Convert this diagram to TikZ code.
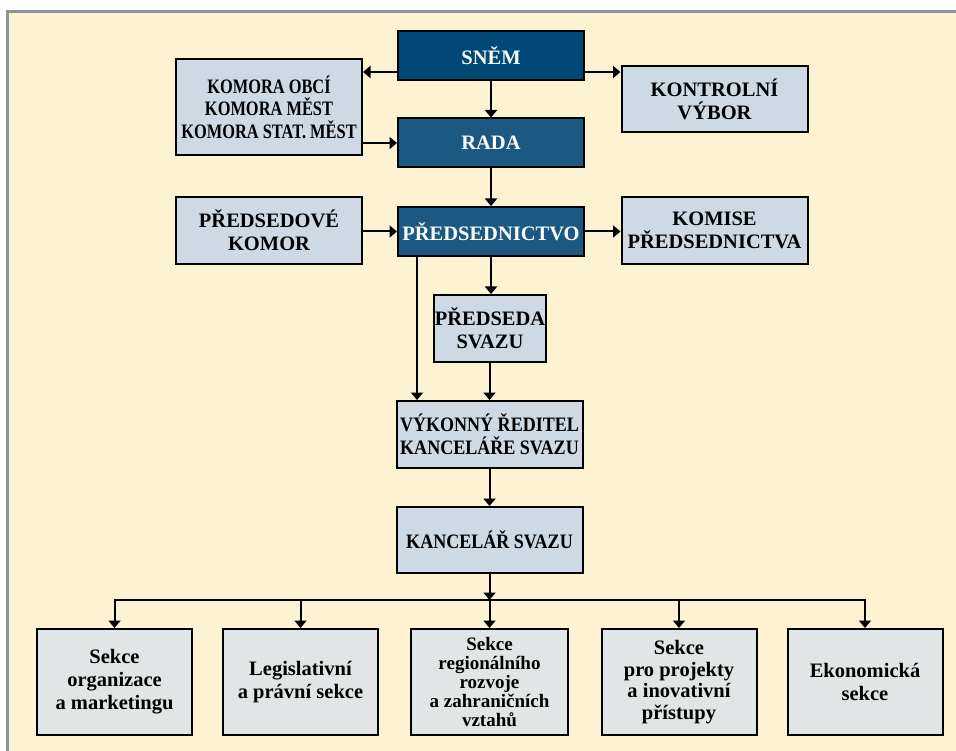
\documentclass[tikz,border=0pt]{standalone}
\usepackage{fontspec}
\setmainfont{Liberation Serif}
\newfontfamily\condA[FakeStretch=0.8]{Liberation Serif}
\newfontfamily\condB[FakeStretch=0.88]{Liberation Serif}
\usetikzlibrary{arrows.meta,calc}
\definecolor{cream}{RGB}{253,243,210}
\definecolor{framegray}{RGB}{140,149,154}
\definecolor{snemblue}{RGB}{0,72,117}
\definecolor{radablue}{RGB}{27,88,130}
\definecolor{lightbox}{RGB}{205,218,227}
\definecolor{graybox}{RGB}{226,229,230}
\begin{document}
\begin{tikzpicture}[x=1pt,y=-1pt,
  box/.style={draw=black,line width=2pt,align=center,inner sep=0pt,
    font=\bfseries\fontsize{20.5}{23}\selectfont},
  wide/.style={minimum width=186pt},
  darkA/.style={box,wide,fill=snemblue,text=white,minimum height=49pt},
  darkB/.style={box,wide,fill=radablue,text=white,minimum height=49pt},
  lbox/.style={box,fill=lightbox},
  sbox/.style={box,fill=graybox,minimum width=155pt,minimum height=106pt},
  ln/.style={line width=2pt},
  arr/.style={line width=2pt,-{Triangle[length=7.5pt,width=12pt]}},
]
\useasboundingbox (0,0) rectangle (956,751);
\fill[white] (0,0) rectangle (956,751);
\begin{scope}
\clip (0,0) rectangle (956,751);
\draw[framegray,line width=2.5pt,fill=cream] (7.5,11.5) rectangle (975,775);
\end{scope}

% top levels
\node[darkA] (snem) at (491,55.5) {SNĚM};
\node[darkB] (rada) at (491,143) {RADA};
\node[darkB] (predsednictvo) at (491,231.5) {PŘEDSEDNICTVO};
\node[lbox,wide,minimum height=96pt,font=\condA\bfseries\fontsize{20.5}{22.5}\selectfont] (komora) at (269,107)
  {KOMORA OBCÍ\\KOMORA MĚST\\KOMORA STAT. MĚST};
\node[lbox,wide,minimum height=66pt] (kontrol) at (714.5,99) {KONTROLNÍ\\VÝBOR};
\node[lbox,wide,minimum height=67pt] (predkom) at (269,230.5) {PŘEDSEDOVÉ\\KOMOR};
\node[lbox,wide,minimum height=67pt] (komise) at (714.5,230.5) {KOMISE\\PŘEDSEDNICTVA};
\node[lbox,minimum width=112pt,minimum height=67pt] (predseda) at (490,328.5) {PŘEDSEDA\\SVAZU};
\node[lbox,wide,minimum height=67pt,font=\condB\bfseries\fontsize{20.5}{23}\selectfont] (vykonny) at (489.5,434.5)
  {VÝKONNÝ ŘEDITEL\\KANCELÁŘE SVAZU};
\node[lbox,wide,minimum height=66pt,font=\condB\bfseries\fontsize{20.5}{23}\selectfont] (kancelar) at (489.5,540)
  {KANCELÁŘ SVAZU};

% sections
\node[sbox] (s1) at (114.5,682) {Sekce\\organizace\\a marketingu};
\node[sbox] (s2) at (300.5,682) {Legislativní\\a právní sekce};
\node[sbox,minimum width=157pt,font=\bfseries\fontsize{19}{18.8}\selectfont] (s3) at (489.5,682)
  {Sekce\\regionálního\\rozvoje\\a zahraničních\\vztahů};
\node[sbox,font=\bfseries\fontsize{20.5}{21.5}\selectfont] (s4) at (679,682) {Sekce\\pro projekty\\a inovativní\\přístupy};
\node[sbox] (s5) at (865,682) {Ekonomická\\sekce};

% connectors
\draw[arr] ([yshift=-16.5pt]snem.west) -- ([yshift=-16.5pt]snem.west -| komora.east);
\draw[arr] ([yshift=-16.5pt]snem.east) -- ([yshift=-16.5pt]snem.east -| kontrol.west);
\draw[arr] (snem.south) -- (rada.north);
\draw[arr] (komora.east |- rada.west) -- (rada.west);
\draw[arr] (rada.south) -- (predsednictvo.north);
\draw[arr] (predkom.east |- predsednictvo.west) -- (predsednictvo.west);
\draw[arr] (predsednictvo.east) -- (predsednictvo.east -| komise.west);
\draw[arr] (predsednictvo.south) -- (predsednictvo.south |- predseda.north);
\draw[arr] ([xshift=-74pt]predsednictvo.south) -- ([xshift=-74pt]predsednictvo.south |- vykonny.north);
\draw[arr] (predseda.south -| vykonny.north) -- (vykonny.north);
\draw[arr] (vykonny.south) -- (kancelar.north);
\coordinate (bus) at (489.5,600);
\draw[arr] (kancelar.south) -- (kancelar.south |- bus);
\draw[ln,line cap=rect] (s1.north |- bus) -- (s5.north |- bus);
\foreach \s in {s1,s2,s3,s4,s5}{
  \draw[arr] (\s.north |- bus) -- (\s.north);
}
\end{tikzpicture}
\end{document}
